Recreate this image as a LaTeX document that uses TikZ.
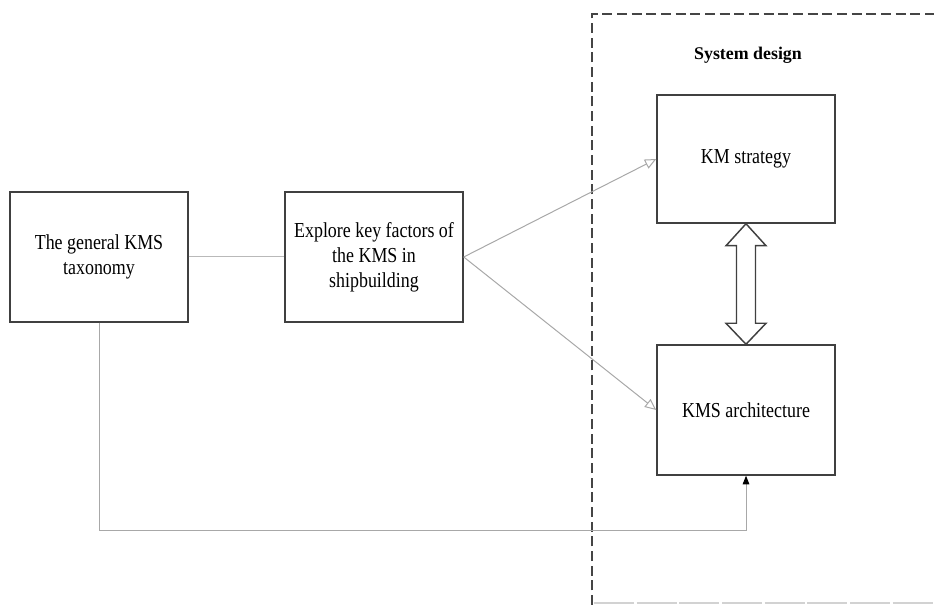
\documentclass[tikz,border=0pt]{standalone}
\usepackage{fontspec}
\setmainfont[FakeStretch=0.84]{Liberation Serif}
\newfontfamily\headfont{Liberation Serif}
\usetikzlibrary{arrows.meta,calc}

\definecolor{boxline}{HTML}{404040}
\definecolor{linkline}{HTML}{A8A8A8}
\definecolor{frameline}{HTML}{454545}

\tikzset{
  stagebox/.style={draw=boxline, line width=1.1pt, fill=white,
    minimum width=133.5pt, minimum height=97.5pt, inner sep=2pt,
    align=center, font=\fontsize{16}{18.75}\selectfont},
  link/.style={draw=linkline, line width=0.75pt},
  openhead/.style={-{Triangle[open, length=8.5pt, width=7.5pt]}},
  solidhead/.style={-{Triangle[length=6.5pt, width=5pt, color=black]}},
  frame/.style={draw=frameline, line width=1.4pt, dash pattern=on 7.5pt off 3.5pt},
  heading/.style={font=\headfont\fontsize{13.4}{16}\selectfont\bfseries}
}

\begin{document}
\begin{tikzpicture}[x=0.75pt, y=-0.75pt]
  \useasboundingbox (0,0) rectangle (934,605);

  % system design boundary
  \coordinate (fTL) at (592,14);
  \coordinate (fBL) at (592,605);
  \coordinate (fTR) at (934,14);
  \coordinate (fBR) at (934,603);
  \coordinate (fBLb) at (594,603);
  \draw[frame] (fBL) -- (fTL) -- (fTR);
  \draw[draw=gray!35, line width=1pt, dash pattern=on 30pt off 2pt] (fBLb) -- (fBR);

  % stages
  \node[stagebox] (tax) at (99,257) {The general KMS\\taxonomy};
  \node[stagebox] (fac) at (374,257) {Explore key factors of\\the KMS in\\shipbuilding};
  \node[stagebox, minimum height=96pt] (str) at (746,159) {KM strategy};
  \node[stagebox] (arc) at (746,410) {KMS architecture};
  \node[heading] (sys) at (748,55) {System design};

  % connectors
  \draw[link, draw=linkline!80] (tax.east) -- (fac.west);
  \draw[link, openhead] (fac.east) -- (str.west);
  \draw[link, openhead] (fac.east) -- (arc.west);
  \coordinate (low) at (99,530);
  \draw[link, solidhead] (tax.south) -- (low) -| (arc.south);

  % two-way arrow between strategy and architecture
  \draw[draw=boxline, line width=1.1pt, fill=white, line join=miter]
    (str.south)
    -- ($(str.south)+(-20,22)$) -- ($(str.south)+(-9.5,22)$)
    -- ($(arc.north)+(-9.5,-21)$) -- ($(arc.north)+(-20,-21)$)
    -- (arc.north)
    -- ($(arc.north)+(20,-21)$) -- ($(arc.north)+(9.5,-21)$)
    -- ($(str.south)+(9.5,22)$) -- ($(str.south)+(20,22)$)
    -- cycle;
\end{tikzpicture}
\end{document}
